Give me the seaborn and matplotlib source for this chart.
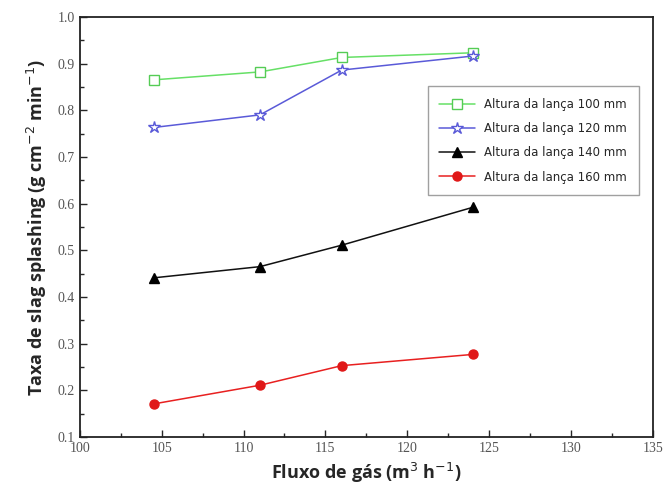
import matplotlib
matplotlib.use("Agg")
import matplotlib.pyplot as plt
import seaborn as sns
import pandas as pd
from matplotlib.ticker import MultipleLocator

gas_flow = [104.5, 111, 116, 124]
rate_100 = [0.865, 0.882, 0.913, 0.923]
rate_120 = [0.763, 0.790, 0.886, 0.916]
rate_140 = [0.441, 0.465, 0.511, 0.592]
rate_160 = [0.171, 0.211, 0.253, 0.277]
labels = ["Altura da lança 100 mm", "Altura da lança 120 mm",
          "Altura da lança 140 mm", "Altura da lança 160 mm"]

sns.set_style("ticks")
plt.rcParams['font.family'] = ['DejaVu Sans']

fig = plt.figure(figsize=(6.66, 4.95), dpi=100)
ax = fig.add_axes([0.120, 0.117, 0.860, 0.849])

series = [rate_100, rate_120, rate_140, rate_160]
styles = [
    dict(color="#66e066", marker="s", mfc="white", mec="#55cc55", ms=6.5),
    dict(color="#5a5ad8", marker="*", mfc="white", mec="#5a5ad8", ms=9),
    dict(color="#111111", marker="^", mfc="black", mec="black", ms=6.5),
    dict(color="#e82020", marker="o", mfc="#e01818", mec="#e01818", ms=6.5),
]
for vals, lab, st in zip(series, labels, styles):
    df = pd.DataFrame({"x": gas_flow, "y": vals})
    sns.lineplot(data=df, x="x", y="y", ax=ax, label=lab, color=st["color"],
                 marker=st["marker"], markersize=st["ms"],
                 markerfacecolor=st["mfc"], markeredgecolor=st["mec"],
                 markeredgewidth=1.0, linewidth=1.1)

ax.set_xlim(100, 135)
ax.set_ylim(0.1, 1.0)
ax.xaxis.set_major_locator(MultipleLocator(5))
ax.xaxis.set_minor_locator(MultipleLocator(2.5))
ax.yaxis.set_major_locator(MultipleLocator(0.1))
ax.yaxis.set_minor_locator(MultipleLocator(0.05))
ax.tick_params(which="both", direction="in", top=False, right=False,
               labelsize=10, labelcolor="#555555", width=1.0)
ax.tick_params(which="major", length=5)
ax.tick_params(which="minor", length=3)
ax.set_yticks(ax.get_yticks())
ax.set_yticklabels([f"{v:.1f}" for v in ax.get_yticks()])
ax.set_xticks(ax.get_xticks())
ax.set_xticklabels([f"{int(v)}" for v in ax.get_xticks()])
ax.set_xlim(100, 135)
ax.set_ylim(0.1, 1.0)
for lbl in ax.get_xticklabels() + ax.get_yticklabels():
    lbl.set_fontfamily("Liberation Serif")

for sp in ax.spines.values():
    sp.set_visible(True)
    sp.set_linewidth(1.3)
    sp.set_color("#222222")

ax.set_xlabel("Fluxo de gás (m$^3$ h$^{-1}$)", fontsize=13, fontweight="bold",
              family="Open Sans", labelpad=4)
ax.set_ylabel("Taxa de slag splashing (g cm$^{-2}$ min$^{-1}$)", fontsize=13,
              fontweight="bold", family="Open Sans", labelpad=6)

leg = ax.legend(loc="upper left", bbox_to_anchor=(0.607, 0.835), fontsize=8.5,
                frameon=True, fancybox=False, edgecolor="#888888",
                handlelength=3, borderpad=1.0, labelspacing=0.95,
                handletextpad=0.8, borderaxespad=0)
leg.get_frame().set_linewidth(1.0)

fig.savefig("out.png", dpi=100)
